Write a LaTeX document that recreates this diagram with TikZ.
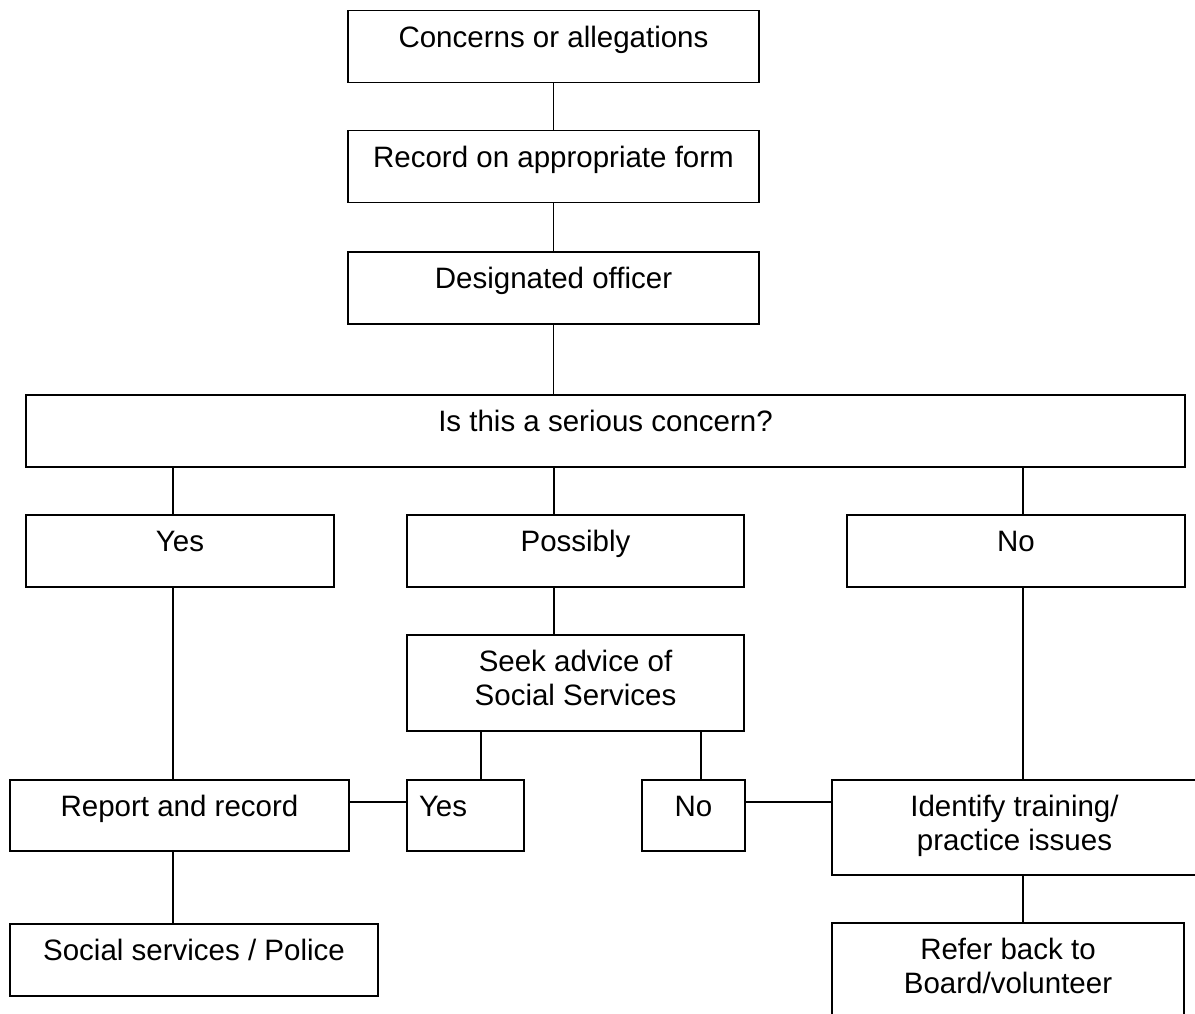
\documentclass[tikz,border=0pt]{standalone}
\usepackage{fontspec}
\setmainfont{Liberation Sans}
\newcommand\twolines[2]{\begin{tabular}[t]{@{}c@{}}#1\\#2\end{tabular}}
\begin{document}
\begin{tikzpicture}[x=1pt,y=-1pt,
  box/.style={draw, line width=1.5pt, inner sep=0pt, text height=37pt, anchor=north,
    font=\fontsize{29.5}{33.5}\selectfont},
  link/.style={line width=1.5pt}]
\useasboundingbox (0,0) rectangle (1195,1014);

\node[box, minimum width=411pt, text depth=35pt] (concerns) at (553.5,10) {Concerns or allegations};
\node[box, minimum width=411pt, text depth=35pt] (record) at (553.5,130) {Record on appropriate form};
\node[box, minimum width=411pt, text depth=35pt] (officer) at (553.5,251) {Designated officer};
\node[box, minimum width=1159pt, text depth=35pt] (serious) at (605.5,394) {Is this a serious concern?};
\node[box, minimum width=308pt, text depth=35pt] (yes) at (180,514) {Yes};
\node[box, minimum width=337pt, text depth=35pt] (possibly) at (575.5,514) {Possibly};
\node[box, minimum width=338pt, text depth=35pt] (no) at (1016,514) {No};
\node[box, minimum width=337pt, text depth=59pt] (seek) at (575.5,634) {\twolines{Seek advice of}{Social Services}};
\node[box, minimum width=339pt, text depth=34pt] (report) at (179.5,779) {Report and record};
\node[box, minimum width=117pt, text depth=34pt] (yes2) at (465.5,779) {\makebox[117pt][l]{\hspace{12pt}Yes}};
\node[box, minimum width=103pt, text depth=34pt] (no2) at (693.5,779) {No};
\node[box, minimum width=365pt, text depth=58pt] (identify) at (1014.5,779) {\twolines{Identify training/}{practice issues}};
\node[box, minimum width=368pt, text depth=35pt] (social) at (194,923) {Social services / Police};
\node[box, minimum width=352pt, text depth=70pt] (refer) at (1008,922) {\twolines{Refer back to}{Board/volunteer}};

\draw[link] (concerns.south) -- (record.north);
\draw[link] (record.south) -- (officer.north);
\draw[link] (officer.south) -- (officer.south |- serious.north);
\draw[link] ([xshift=-7pt]yes.north) -- ([xshift=-7pt]yes.north |- serious.south);
\draw[link] ([xshift=-21.5pt]possibly.north) -- ([xshift=-21.5pt]possibly.north |- serious.south);
\draw[link] ([xshift=7pt]no.north) -- ([xshift=7pt]no.north |- serious.south);
\draw[link] ([xshift=-7pt]yes.south) -- ([xshift=-7pt]yes.south |- report.north);
\draw[link] ([xshift=-21.5pt]possibly.south) -- ([xshift=-21.5pt]possibly.south |- seek.north);
\draw[link] ([xshift=15.5pt]yes2.north) -- ([xshift=15.5pt]yes2.north |- seek.south);
\draw[link] ([xshift=7.5pt]no2.north) -- ([xshift=7.5pt]no2.north |- seek.south);
\draw[link] ([yshift=-23pt]report.north east) -- ([yshift=-23pt]report.north east -| yes2.west);
\draw[link] ([yshift=-23pt]no2.north east) -- ([yshift=-23pt]no2.north east -| identify.west);
\draw[link] ([xshift=7pt]no.south) -- ([xshift=7pt]no.south |- identify.north);
\draw[link] ([xshift=-6.5pt]report.south) -- ([xshift=-6.5pt]report.south |- social.north);
\draw[link] ([xshift=8.5pt]identify.south) -- ([xshift=8.5pt]identify.south |- refer.north);
\end{tikzpicture}
\end{document}
